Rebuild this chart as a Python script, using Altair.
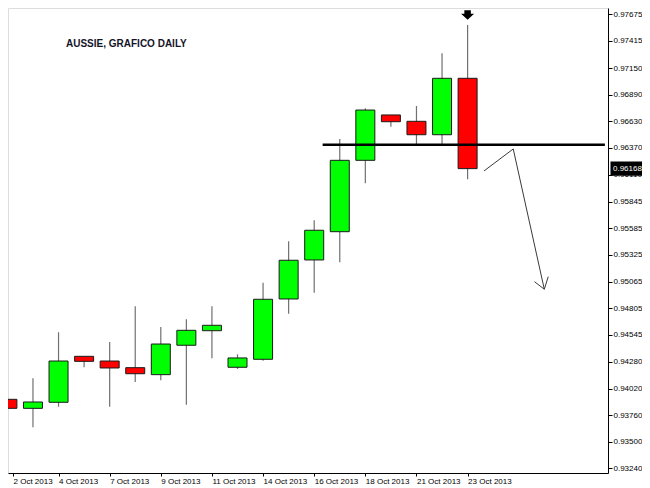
import altair as alt
import pandas as pd

# ---- data ----
dates = ["2 Oct 2013", "3 Oct 2013", "4 Oct 2013", "6 Oct 2013", "7 Oct 2013", "8 Oct 2013",
         "9 Oct 2013", "10 Oct 2013", "11 Oct 2013", "13 Oct 2013", "14 Oct 2013", "15 Oct 2013",
         "16 Oct 2013", "17 Oct 2013", "18 Oct 2013", "20 Oct 2013", "21 Oct 2013", "22 Oct 2013",
         "23 Oct 2013"]
opens = [0.93915, 0.93827, 0.93886, 0.94335, 0.94289, 0.94224, 0.94156, 0.94443, 0.94585, 0.94228,
         0.94306, 0.94895, 0.95276, 0.95552, 0.96249, 0.96692, 0.96630, 0.96499, 0.97050]
highs = [0.94074, 0.94120, 0.94570, 0.94335, 0.94475, 0.94823, 0.94621, 0.94697, 0.94823, 0.94355,
         0.95054, 0.95458, 0.95663, 0.96457, 0.96757, 0.96692, 0.96780, 0.97294, 0.97571]
lows = [0.93323, 0.93642, 0.93843, 0.94228, 0.93843, 0.94084, 0.94101, 0.93863, 0.94316, 0.94211,
        0.94292, 0.94751, 0.94956, 0.95253, 0.96025, 0.96577, 0.96406, 0.96406, 0.96064]
closes = [0.93827, 0.93889, 0.94289, 0.94286, 0.94221, 0.94165, 0.94455, 0.94589, 0.94638, 0.94319,
          0.94892, 0.95273, 0.95566, 0.96249, 0.96740, 0.96626, 0.96499, 0.97050, 0.96168]

y_ticks = [0.97675, 0.97415, 0.97150, 0.96890, 0.96630, 0.96370, 0.96110, 0.95845, 0.95585,
           0.95325, 0.95065, 0.94805, 0.94545, 0.94280, 0.94020, 0.93760, 0.93500, 0.93240]
x_label_idx = [0, 2, 4, 6, 8, 10, 12, 14, 16, 18]
x_label_txt = ["2 Oct 2013", "4 Oct 2013", "7 Oct 2013", "9 Oct 2013", "11 Oct 2013",
               "14 Oct 2013", "16 Oct 2013", "18 Oct 2013", "21 Oct 2013", "23 Oct 2013"]

level_price = 0.96400
level_from, level_to = 12.33, 23.37
last_price = 0.96168
title_text = "AUSSIE, GRAFICO DAILY"

# hand-drawn projection arrow (index, price)
proj_x = [18.64, 19.785, 21.0]
proj_y = [0.96145, 0.96360, 0.94990]
head_x = [20.615, 21.0, 21.154]
head_y = [0.95064, 0.94990, 0.95113]
signal_price = 0.97668

X_DOMAIN = [0.219, 23.296]
Y_DOMAIN = [0.931955, 0.977365]
W, H = 600, 465

df = pd.DataFrame({"i": list(range(len(dates))), "date": dates, "open": opens,
                   "high": highs, "low": lows, "close": closes})
df["dir"] = ["down" if o > c else "up" for o, c in zip(opens, closes)]

label_map = [""] * len(dates)
for k, t in zip(x_label_idx, x_label_txt):
    label_map[k] = t
label_expr = "[" + ",".join("'" + s + "'" for s in label_map) + "][round(datum.value)]"
x_values = [X_DOMAIN[0]] + x_label_idx[1:]

xscale = alt.Scale(domain=X_DOMAIN, nice=False, zero=False)
yscale = alt.Scale(domain=Y_DOMAIN, nice=False, zero=False)

x_axis = alt.Axis(values=x_values, labelExpr=label_expr, grid=False,
                  labelAlign="left", labelPadding=1, tickSize=3, labelOverlap=False,
                  domainColor="black", tickColor="black", labelColor="black",
                  labelFont="Liberation Sans", labelFontSize=8, labelBaseline="top")
y_axis = alt.Axis(orient="right", values=y_ticks, format=".5f", grid=False,
                  tickSize=4, labelPadding=1, labelOverlap=False, labelFlush=False,
                  domainColor="black", tickColor="black",
                  labelColor="black", labelFont="Liberation Sans", labelFontSize=8,
                  labelAlign="left", labelBaseline="middle")


def X(field):
    return alt.X(field, scale=xscale, title=None, axis=x_axis)


def Y(field):
    return alt.Y(field, scale=yscale, title=None, axis=y_axis)


base = alt.Chart(df)

wicks = base.mark_rule(color="#707070", strokeWidth=1.2, clip=True).encode(
    x=X("i:Q"), y=Y("low:Q"), y2="high:Q")

bodies = base.mark_bar(size=19, stroke="#1a1a1a", strokeWidth=1, clip=True).encode(
    x=X("i:Q"),
    y=Y("open:Q"),
    y2="close:Q",
    color=alt.Color("dir:N", scale=alt.Scale(domain=["up", "down"], range=["#00ff00", "#ff0000"]),
                    legend=None),
)

level_df = pd.DataFrame({"x": [level_from], "x2": [level_to], "y": [level_price]})
level = alt.Chart(level_df).mark_rule(color="black", strokeWidth=2.5, clip=True).encode(
    x=X("x:Q"), x2="x2:Q", y=Y("y:Q"))

proj_df = pd.DataFrame({
    "x": proj_x + head_x,
    "y": proj_y + head_y,
    "seg": ["a"] * len(proj_x) + ["b"] * len(head_x),
    "k": list(range(len(proj_x))) + list(range(len(head_x))),
})
proj = alt.Chart(proj_df).mark_line(color="#3a3a3a", strokeWidth=1).encode(
    x=X("x:Q"), y=Y("y:Q"), detail="seg:N", order="k:O")

arrow_path = "M-0.5,-0.72 L0.5,-0.72 L0.5,-0.2 L1,-0.2 L0,0.72 L-1,-0.2 L-0.5,-0.2 Z"
sig_df = pd.DataFrame({"x": [len(dates) - 1], "y": [signal_price]})
signal = alt.Chart(sig_df).mark_point(shape=arrow_path, filled=True, size=169, color="black",
                                      opacity=1, strokeWidth=0).encode(x=X("x:Q"), y=Y("y:Q"))

lp_df = pd.DataFrame({"y": [last_price], "t": [f"{last_price:.5f}"]})
box_path = "M-1,-0.43 L1,-0.43 L1,0.43 L-1,0.43 Z"
lp_box = alt.Chart(lp_df).mark_point(shape=box_path, filled=True, size=1089, color="black",
                                     opacity=1, strokeWidth=0).encode(
    x=alt.value(W + 19), y=Y("y:Q"))
lp_text = alt.Chart(lp_df).mark_text(color="white", align="left", baseline="middle",
                                     font="Liberation Sans", fontSize=8).encode(
    x=alt.value(W + 5), y=Y("y:Q"), text="t:N")

title = alt.Chart(pd.DataFrame({"t": [title_text]})).mark_text(
    align="left", baseline="middle", font="Liberation Sans", fontSize=10, fontWeight="bold",
    color="#141428").encode(x=alt.value(58), y=alt.value(36), text="t:N")

chart = alt.layer(wicks, bodies, level, proj, signal, lp_box, lp_text, title).properties(
    width=W, height=H,
    autosize=alt.AutoSizeParams(type="none"),
    padding={"left": 0, "top": 0, "right": 34, "bottom": 15},
).configure_view(stroke="#a0a0a0", strokeWidth=1).configure_axis(
    labelOverlap=False
).configure(background="white")

chart.save("out.html", embed_options={"renderer": "svg", "actions": False})
